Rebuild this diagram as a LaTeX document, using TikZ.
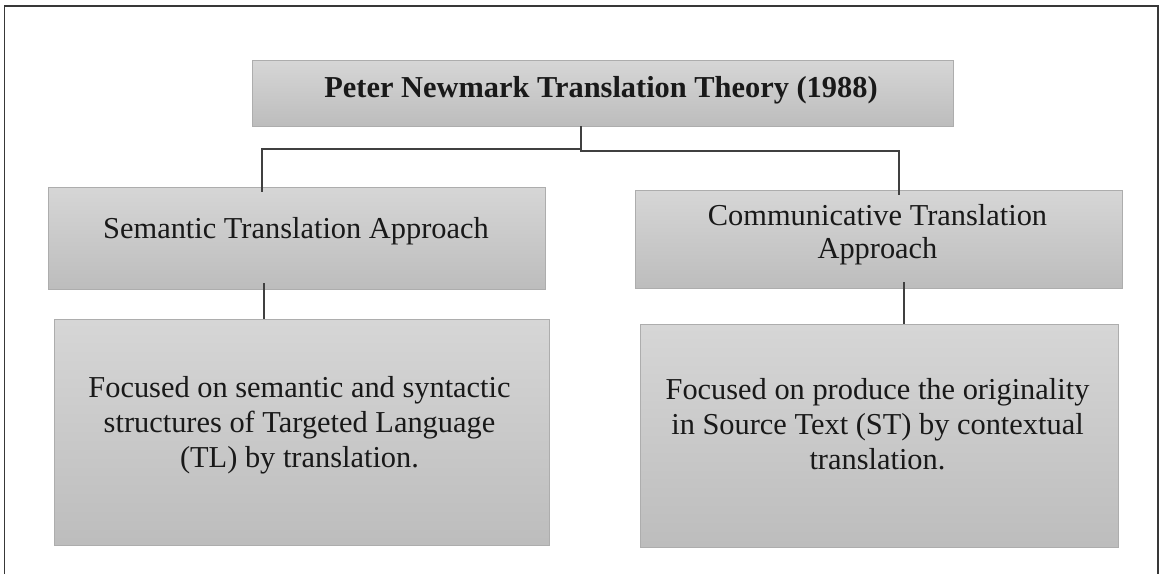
\documentclass[tikz,border=0pt]{standalone}
\usepackage{fontspec}
\setmainfont{Liberation Serif}
\begin{document}
\begin{tikzpicture}[x=1pt,y=-1pt]
\tikzset{
  box/.style={draw=black!32, line width=0.9pt, top color=black!16, bottom color=black!26, inner sep=0pt},
  conn/.style={draw=black!75, line width=2pt},
  frame/.style={draw=black!78, line width=1.8pt},
  lbl/.style={font=\fontsize{30.4}{35}\selectfont, text=black!90, align=center, inner sep=0pt, anchor=base},
}
\useasboundingbox (0,0) rectangle (1165,574);
\fill[white] (0,0) rectangle (1165,574);
\draw[frame] (4.5,574) -- (4.5,6) -- (1158,6) -- (1158,574);

% boxes
\node[box, minimum width=701pt, minimum height=66pt]  (top)  at (602.5,93)  {};
\node[box, minimum width=497pt, minimum height=102pt] (semA) at (296.5,238) {};
\node[box, minimum width=487pt, minimum height=98pt]  (comA) at (878.5,239) {};
\node[box, minimum width=495pt, minimum height=226pt] (semB) at (301.5,432) {};
\node[box, minimum width=478pt, minimum height=223pt] (comB) at (879,435.5) {};

% texts (base anchor = baseline of the last line)
\node[lbl, font=\bfseries\fontsize{30.4}{35}\selectfont] (topT) at (601,97) {Peter Newmark Translation Theory (1988)};
\node[lbl] (semAT) at (296,238) {Semantic Translation Approach};
\node[lbl, font=\fontsize{30.4}{33}\selectfont] (comAT) at (877.5,258) {Communicative Translation\\Approach};
\node[lbl] (semBT) at (299.5,467) {Focused on semantic and syntactic\\structures of Targeted Language\\(TL) by translation.};
\node[lbl] (comBT) at (877.5,469) {Focused on produce the originality\\in Source Text (ST) by contextual\\translation.};

% connectors
\coordinate (j)  at (581,149);
\coordinate (jl) at (262,149);
\coordinate (jr) at (899,151);
\draw[conn] (top.south -| j) -- (j) -- (jl) -- ([yshift=-5pt]semA.north -| jl);
\draw[conn] (j) -- ++(0,2) -- (jr) -- ([yshift=-5pt]comA.north -| jr);
\coordinate (ls) at (264,0);
\coordinate (rs) at (904,0);
\draw[conn] ([yshift=6pt]semA.south -| ls) -- (semB.north -| ls);
\draw[conn] ([yshift=6pt]comA.south -| rs) -- (comB.north -| rs);
\end{tikzpicture}
\end{document}
